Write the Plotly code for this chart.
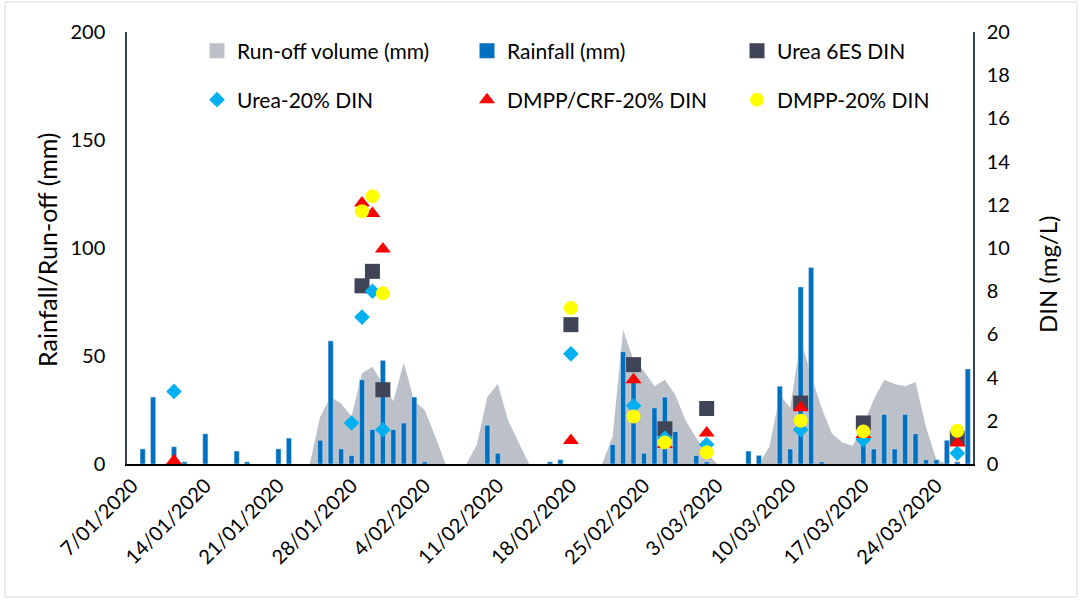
import pandas as pd
import plotly.graph_objects as go

# ---------------- data ----------------
dates = pd.date_range("2020-01-07", "2020-03-27", freq="D")
categories = [f"{d.day}/{d.month:02d}/{d.year}" for d in dates]
tick_labels = categories[::7]

# rainfall (mm) by day index
rain_idx = [1, 2, 4, 5, 7, 10, 11, 14, 15, 18, 19, 20, 21, 22, 23, 24, 25, 26, 27, 28,
            34, 35, 40, 41, 46, 47, 48, 49, 50, 51, 52, 54, 55, 59, 60, 62, 63, 64, 65, 66,
            70, 71, 72, 73, 74, 75, 76, 77, 78, 79, 80]
rain_val = [7, 31, 8, 1, 14, 6, 1, 7, 12, 11, 57, 7, 4, 39, 16, 48, 16, 19, 31, 1,
            18, 5, 1, 2, 9, 52, 40, 5, 26, 31, 15, 4, 1, 6, 4, 36, 7, 82, 91, 1,
            12, 7, 23, 7, 23, 14, 2, 2, 11, 1, 44]

# run-off volume (mm) by day index
runoff_idx = [3, 4, 5,
              17, 18, 19, 20, 21, 22, 23, 24, 25, 26, 27, 28, 29, 30,
              32, 33, 34, 35, 36, 37, 38,
              45, 46, 47, 48, 49, 50, 51, 52, 53, 54, 55, 56,
              60, 61, 62, 63, 64, 65, 66, 67, 68, 69, 70, 71, 72, 73, 74, 75, 76, 77, 78]
runoff_val = [0, 1, 0,
              0, 22, 31, 28, 22, 42, 45, 37, 29, 47, 29, 25, 13, 0,
              0, 9, 31, 37, 20, 10, 0,
              0, 13, 62, 48, 43, 36, 39, 32, 20, 12, 5, 0,
              0, 8, 32, 26, 58, 41, 26, 14, 10, 8.5, 18, 30, 39, 37, 36, 38, 17, 2, 0]

# DIN (mg/L) sampling days
urea6es_idx = [22, 23, 24, 42, 48, 51, 55, 64, 70, 79]
urea6es_val = [8.25, 8.92, 3.44, 6.45, 4.6, 1.63, 2.57, 2.82, 1.9, 1.2]

urea20_idx = [4, 21, 22, 23, 24, 42, 48, 51, 55, 64, 70, 79]
urea20_val = [3.36, 1.9, 6.8, 8.0, 1.59, 5.1, 2.7, 1.2, 0.9, 1.59, 1.13, 0.5]

crf20_idx = [4, 22, 23, 24, 42, 48, 51, 55, 64, 70, 79]
crf20_val = [0.15, 12.08, 11.6, 9.95, 1.09, 3.9, 0.9, 1.43, 2.6, 1.36, 0.97]

dmpp20_idx = [22, 23, 24, 42, 48, 51, 55, 64, 70, 79]
dmpp20_val = [11.7, 12.4, 7.9, 7.22, 2.2, 1.0, 0.54, 2.0, 1.51, 1.54]

# ---------------- styles ----------------
FONT = "Lato"
C_RUNOFF = "#bcc1c9"
C_RAIN = "#0070c0"
C_U6 = "#3f4456"
C_U20 = "#00b0f0"
C_CRF = "#ff0000"
C_DMPP = "#ffff00"
AX_COL = "#3b4150"


def cats(idx):
    return [categories[i] for i in idx]


runoff_full = [0.0] * len(categories)
for i, v in zip(runoff_idx, runoff_val):
    runoff_full[i] = v

fig = go.Figure()

# run-off area (bottom layer)
fig.add_trace(go.Scatter(x=categories, y=runoff_full, mode="lines", fill="tozeroy",
                         fillcolor=C_RUNOFF, line=dict(width=0, color=C_RUNOFF),
                         showlegend=False, yaxis="y", hoverinfo="skip"))
# rainfall bars (over the area)
fig.add_trace(go.Bar(x=cats(rain_idx), y=rain_val, marker_color=C_RAIN,
                     showlegend=False, yaxis="y2"))

# legend-only entries for run-off and rainfall
fig.add_trace(go.Scatter(x=[None], y=[None], mode="markers", name="Run-off volume (mm)",
                         marker=dict(symbol="square", size=15, color=C_RUNOFF),
                         legend="legend", yaxis="y"))
fig.add_trace(go.Scatter(x=[None], y=[None], mode="markers", name="Rainfall (mm)",
                         marker=dict(symbol="square", size=15, color=C_RAIN),
                         legend="legend", yaxis="y"))

# DIN markers
fig.add_trace(go.Scatter(x=cats(urea6es_idx), y=urea6es_val, mode="markers", name="Urea 6ES DIN",
                         marker=dict(symbol="square", size=15, color=C_U6),
                         legend="legend", yaxis="y3"))
fig.add_trace(go.Scatter(x=cats(urea20_idx), y=urea20_val, mode="markers", name="Urea-20% DIN",
                         marker=dict(symbol="diamond", size=12, color=C_U20),
                         legend="legend2", yaxis="y3"))
fig.add_trace(go.Scatter(x=cats(crf20_idx), y=crf20_val, mode="markers", name="DMPP/CRF-20% DIN",
                         marker=dict(symbol="triangle-up", size=14, color=C_CRF),
                         legend="legend2", yaxis="y3"))
fig.add_trace(go.Scatter(x=cats(dmpp20_idx), y=dmpp20_val, mode="markers", name="DMPP-20% DIN",
                         marker=dict(symbol="circle", size=14, color=C_DMPP),
                         legend="legend2", yaxis="y3"))

L, R, T, B = 127, 109, 32, 137
W, H = 1082, 601
pw, ph = W - L - R, H - T - B

legend_common = dict(orientation="h", entrywidth=225, entrywidthmode="pixels",
                     font=dict(family=FONT, size=21, color="black"),
                     bgcolor="rgba(0,0,0,0)", xanchor="left", yanchor="middle",
                     itemclick=False, itemdoubleclick=False)

fig.update_layout(
    width=W, height=H,
    margin=dict(l=L, r=R, t=T, b=B, autoexpand=False),
    paper_bgcolor="white", plot_bgcolor="white",
    font=dict(family=FONT, size=20, color="black"),
    bargap=0.5,
    showlegend=True,
    legend=dict(x=(197 - L) / pw, y=(464 - 51) / ph, **legend_common),
    legend2=dict(x=(197 - L) / pw, y=(464 - 100) / ph, **legend_common),
    xaxis=dict(type="category", categoryorder="array", categoryarray=categories,
               range=[-0.5, len(categories) - 0.5],
               tickmode="array", tickvals=tick_labels, ticktext=tick_labels,
               tickangle=-45, ticks="", showgrid=False, zeroline=False,
               showline=True, linecolor="black", linewidth=2,
               tickfont=dict(family=FONT, size=20, color="black")),
    yaxis=dict(range=[0, 200], tickvals=[0, 50, 100, 150, 200], ticks="",
               showgrid=False, zeroline=False, showline=True, linecolor=AX_COL, linewidth=1.5,
               ticklabelstandoff=16,
               tickfont=dict(family=FONT, size=20, color="black")),
    yaxis2=dict(range=[0, 200], overlaying="y", visible=False, showgrid=False),
    yaxis3=dict(range=[0, 20], tickvals=list(range(0, 21, 2)), overlaying="y", side="right",
                ticks="", showgrid=False, zeroline=False, showline=True,
                linecolor=AX_COL, linewidth=1.5, ticklabelstandoff=8,
                tickfont=dict(family=FONT, size=20, color="black")),
    annotations=[
        dict(text="Rainfall/Run-off (mm)", textangle=-90, showarrow=False,
             xref="paper", yref="paper", x=(47 - L) / pw, y=(464 - 250) / ph,
             xanchor="center", yanchor="middle",
             font=dict(family=FONT, size=25, color="black")),
        dict(text="DIN (mg/L)", textangle=-90, showarrow=False,
             xref="paper", yref="paper", x=(1047 - L) / pw, y=(464 - 275) / ph,
             xanchor="center", yanchor="middle",
             font=dict(family=FONT, size=24, color="black")),
    ],
    shapes=[dict(type="rect", xref="paper", yref="paper",
                 x0=(5 - L) / pw, x1=(1077 - L) / pw,
                 y0=(464 - 597) / ph, y1=(464 - 2) / ph,
                 line=dict(color="#d9d9d9", width=1), fillcolor="rgba(0,0,0,0)", layer="below")],
)

fig.write_html("out.html", config={"displayModeBar": False},
               post_script="document.body.style.margin='0';")
